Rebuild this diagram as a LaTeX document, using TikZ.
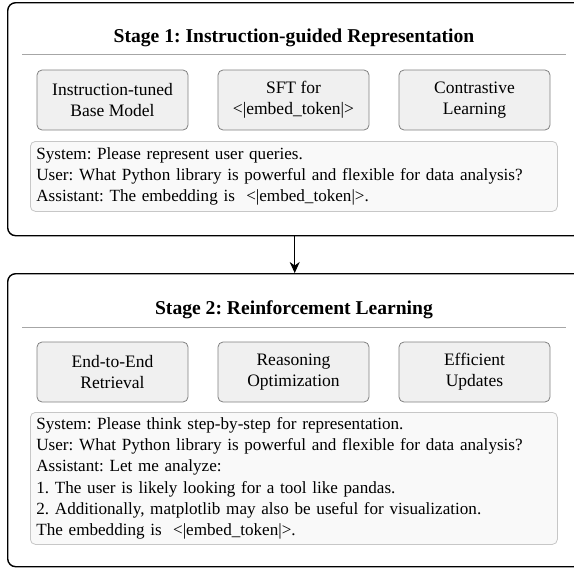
\documentclass[tikz,border=0pt]{standalone}
\usepackage{fontspec}
\setmainfont{Liberation Serif}
\usetikzlibrary{arrows.meta}
\frenchspacing
\begin{document}
\begin{tikzpicture}[x=1pt,y=-1pt,
  stagebox/.style={draw=black, line width=1.4pt, rounded corners=8pt,
    minimum width=574pt, anchor=north west, inner sep=0pt},
  stagetitle/.style={font=\bfseries\fontsize{19.6}{22}\selectfont},
  rulestyle/.style={draw=black!35, line width=0.9pt},
  featbox/.style={draw=black!50, fill=black!6, line width=0.8pt,
    rounded corners=5pt, minimum width=151pt, minimum height=60pt,
    align=center, inner sep=0pt, font=\fontsize{17.5}{21}\selectfont},
  promptbox/.style={draw=black!22, fill=black!2.5, line width=0.8pt,
    rounded corners=5pt, anchor=north west, inner xsep=6pt, inner ysep=0pt,
    text width=515pt, align=left,
    font=\fontsize{17.1}{21.3}\selectfont},
  flow/.style={draw=black, line width=1.2pt,
    -{Stealth[length=11pt,width=10pt,inset=3.5pt]}}]
\useasboundingbox (0,0) rectangle (574,571);
\clip (0,0) rectangle (574,571);

% Stage 1 frame
\node[stagebox, minimum height=233pt] (s1) at (7,2) {};
\node[stagetitle] (t1) at (294,38) {Stage 1: Instruction-guided Representation};
\coordinate (r1a) at (22,54);
\coordinate (r1b) at (566,54);
\draw[rulestyle] (r1a) -- (r1b);
\node[featbox] (a1) at (112.5,100) {Instruction-tuned\\Base Model};
\node[featbox] (a2) at (293.5,100) {SFT for\\<|embed\_token|>};
\node[featbox] (a3) at (474.5,100) {Contrastive\\Learning};
\node[promptbox, minimum height=70pt] (p1) at (30,141) {%
System: Please represent user queries.\\
User: What Python library is powerful and flexible for data analysis?\\
Assistant: The embedding is \ <|embed\_token|>.};

% Stage 2 frame
\node[stagebox, minimum height=293pt] (s2) at (7,273) {};
\node[stagetitle] (t2) at (294,310) {Stage 2: Reinforcement Learning};
\coordinate (r2a) at (22,327);
\coordinate (r2b) at (566,327);
\draw[rulestyle] (r2a) -- (r2b);
\node[featbox] (b1) at (112.5,372) {End-to-End\\Retrieval};
\node[featbox] (b2) at (293.5,372) {Reasoning\\Optimization};
\node[featbox] (b3) at (474.5,372) {Efficient\\Updates};
\node[promptbox, minimum height=132pt] (p2) at (30,412) {%
System: Please think step-by-step for representation.\\
User: What Python library is powerful and flexible for data analysis?\\
Assistant: Let me analyze:\\
1. The user is likely looking for a tool like pandas.\\
2. Additionally, matplotlib may also be useful for visualization.\\
The embedding is \ <|embed\_token|>.};

% Stage transition
\draw[flow] (s1.south) -- (s2.north);
\end{tikzpicture}
\end{document}
